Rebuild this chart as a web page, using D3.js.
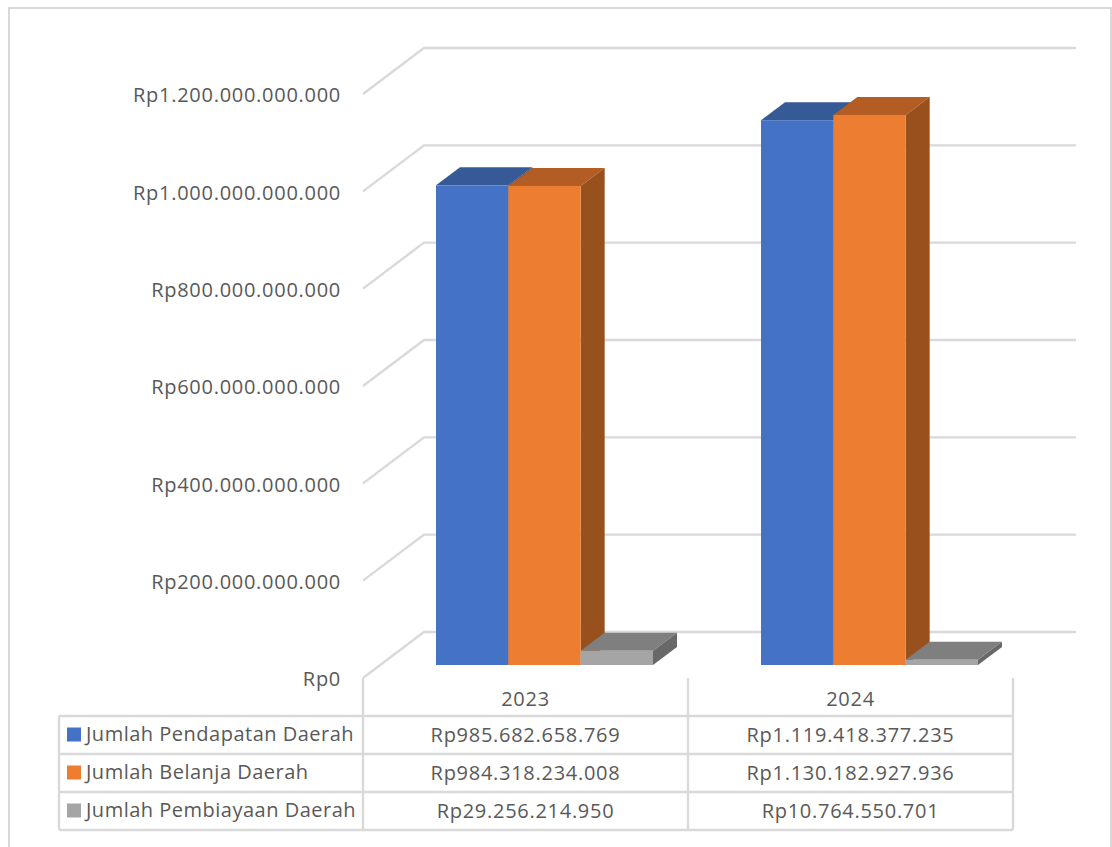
<!DOCTYPE html>
<html>
<head>
<meta charset="utf-8">
<script src="https://cdnjs.cloudflare.com/ajax/libs/d3/7.8.5/d3.min.js"></script>
<style>
  html, body { margin: 0; padding: 0; background: #fff; }
  svg { display: block; }
  text { font-family: "Open Sans", sans-serif; fill: #595959; font-size: 20px; letter-spacing: 0.72px; }
  text.legend { letter-spacing: 0.5px; }
</style>
</head>
<body>
<div id="chart"></div>
<script>
let categories = ["2023", "2024"];
let seriesNames = ["Jumlah Pendapatan Daerah", "Jumlah Belanja Daerah", "Jumlah Pembiayaan Daerah"];
let pendapatan = [985682658769, 1119418377235];
let belanja = [984318234008, 1130182927936];
let pembiayaan = [29256214950, 10764550701];
let seriesValues = [pendapatan, belanja, pembiayaan];
let yTicks = [0, 200e9, 400e9, 600e9, 800e9, 1000e9, 1200e9];

let colors = ["#4472c4", "#ed7d31", "#a5a5a5"];
let topColors = ["#365a96", "#b35d24", "#7f7f7f"];
let sideColors = ["#2f4f85", "#98501d", "#686868"];

let width = 1112, height = 847;

// rupiah format, dots as thousands separator
let rupiah = d3.formatLocale({decimal: ",", thousands: ".", grouping: [3], currency: ["Rp", ""]}).format("$,.0f");

let svg = d3.select("#chart").append("svg").attr("width", width).attr("height", height);

// frame, only top left right show in the picture
svg.append("path")
  .attr("fill", "none").attr("stroke", "#d9d9d9").attr("stroke-width", 2)
  .attr("d", "M9,847V8H1111V847");

let y = d3.scaleLinear().domain([0, 1200e9]).range([678, 94]);
let x = d3.scaleBand().domain(categories).range([363, 1013]);
let inner = d3.scaleBand().domain(d3.range(seriesNames.length)).range([0, 217]);

let depthX = 61, depthY = 46;   // wall offset
let floorY = 13;                // where bars stand on the floor
let barX = 24, barY = 18;       // bar depth

// gridlines on side and back wall
let grid = svg.append("g").attr("fill", "none").attr("stroke", "#d9d9d9").attr("stroke-width", 2.4);
yTicks.forEach(function(t) {
  grid.append("path").attr("d", "M" + x.range()[0] + "," + y(t) + "l" + depthX + "," + (-depthY) + "H1076");
});

// y labels
svg.append("g").selectAll("text").data(yTicks).enter().append("text")
  .attr("x", 341)
  .attr("y", function(d) { return y(d) + 3; })
  .attr("text-anchor", "end")
  .attr("dominant-baseline", "middle")
  .text(function(d) { return rupiah(d); });

// bars
categories.forEach(function(c, ci) {
  let g = svg.append("g").attr("transform", "translate(" + (x(c) + (x.bandwidth() - 217) / 2 + 19) + ",0)");
  seriesValues.forEach(function(vals, si) {
    let x0 = inner(si), w = inner.bandwidth();
    let base = y(0) - floorY;
    let top = y(vals[ci]) - floorY;
    g.append("path").attr("fill", topColors[si])
      .attr("d", "M" + x0 + "," + top + "l" + barX + "," + (-barY) + "h" + w + "l" + (-barX) + "," + barY + "Z");
    g.append("path").attr("fill", sideColors[si])
      .attr("d", "M" + (x0 + w) + "," + top + "l" + barX + "," + (-barY) + "V" + (base - barY) + "l" + (-barX) + "," + barY + "Z");
    g.append("rect").attr("fill", colors[si])
      .attr("x", x0).attr("y", top).attr("width", w).attr("height", base - top);
  });
});

// data table
let rowY = d3.scaleBand().domain(seriesNames).range([716, 830]);
let tableLines = svg.append("g").attr("stroke", "#d9d9d9").attr("stroke-width", 2.4).attr("fill", "none");
x.domain().concat(["end"]).forEach(function(c) {
  let lx = c === "end" ? x.range()[1] : x(c);
  tableLines.append("line").attr("x1", lx).attr("x2", lx).attr("y1", y(0)).attr("y2", 830);
});
tableLines.append("line").attr("x1", 59).attr("x2", 59).attr("y1", 716).attr("y2", 830);
rowY.domain().forEach(function(s) {
  tableLines.append("line").attr("x1", 59).attr("x2", 1013).attr("y1", rowY(s)).attr("y2", rowY(s));
});
tableLines.append("line").attr("x1", 59).attr("x2", 1013).attr("y1", 830).attr("y2", 830);

svg.append("g").selectAll("text").data(categories).enter().append("text")
  .attr("x", function(d) { return x(d) + x.bandwidth() / 2; })
  .attr("y", 701)
  .attr("text-anchor", "middle").attr("dominant-baseline", "middle")
  .text(function(d) { return d; });

seriesNames.forEach(function(s, si) {
  let cy = rowY(s) + rowY.bandwidth() / 2;
  svg.append("rect").attr("x", 67).attr("y", cy - 7.5).attr("width", 14).attr("height", 14).attr("fill", colors[si]);
  svg.append("text").attr("class", "legend").attr("x", 86).attr("y", cy + 1).attr("dominant-baseline", "middle").text(s);
  categories.forEach(function(c, ci) {
    svg.append("text")
      .attr("x", x(c) + x.bandwidth() / 2).attr("y", cy + 2)
      .attr("text-anchor", "middle").attr("dominant-baseline", "middle")
      .text(rupiah(seriesValues[si][ci]));
  });
});
</script>
</body>
</html>
